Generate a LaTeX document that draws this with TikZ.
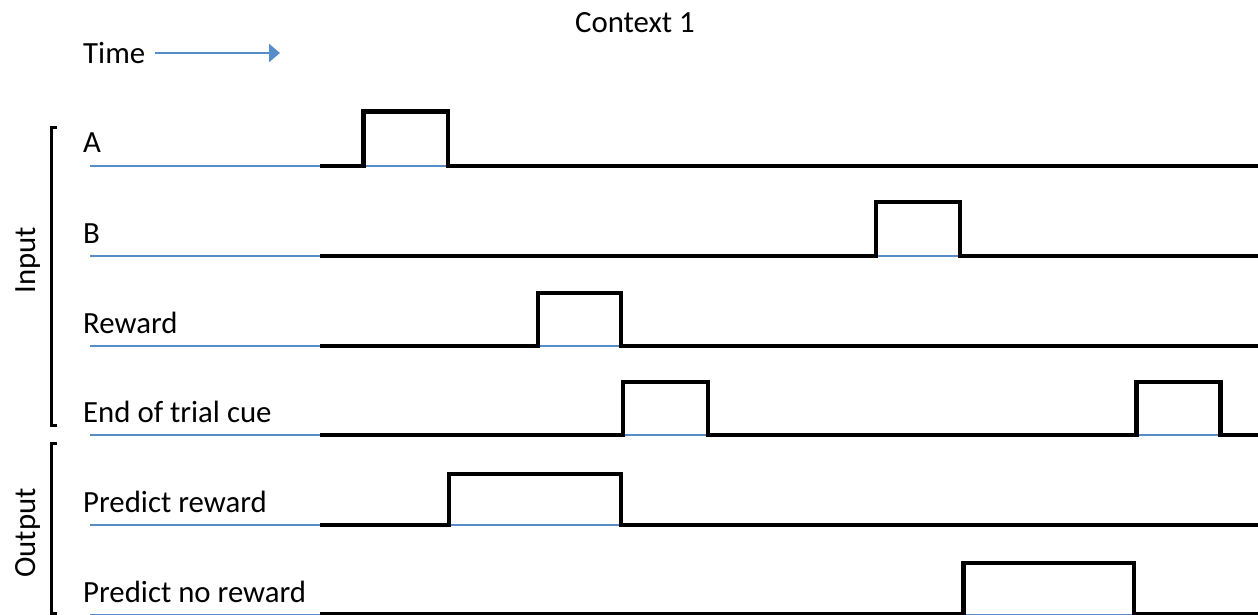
\documentclass[tikz,border=0pt]{standalone}
\usepackage{fontspec}
\setmainfont{Carlito}
\usetikzlibrary{arrows.meta}
\definecolor{tblue}{RGB}{86,140,200}
\tikzset{
  lab/.style={anchor=base west,inner sep=0pt,font=\fontsize{30.8}{37}\selectfont},
  rlab/.style={anchor=base,inner sep=0pt,rotate=90,font=\fontsize{30.8}{37}\selectfont},
  axis/.style={draw=tblue,line width=1.4pt},
  sig/.style={draw=black,line width=4.5pt,line join=miter,line cap=butt},
  bracket/.style={draw=black,line width=3pt,line join=miter},
  tarrow/.style={draw=tblue,line width=2.5pt,-{Triangle[length=11pt,width=18pt]}}
}
\begin{document}
\begin{tikzpicture}[x=1pt,y=-1pt]
\useasboundingbox (0,0) rectangle (1258,615);
\clip (0,0) rectangle (1258,615);
% titles
\node[anchor=base,inner sep=0pt,font=\fontsize{30.8}{37}\selectfont] (ctx) at (635,33) {Context 1};
\node[lab] (time) at (83,64) {Time};
\coordinate (tstart) at (155,53);
\coordinate (tend) at (280,53);
\draw[tarrow] (tstart) -- (tend);
% brackets
\draw[bracket] (57,128) -- (51,128) -- (51,425) -- (57,425);
\draw[bracket] (57,443) -- (51,443) -- (51,613) -- (57,613);
\node[rlab] (inp) at (35,260) {Input};
\node[rlab] (outp) at (35,533) {Output};
% row labels
\node[lab] (lA) at (83,153) {A};
\node[lab] (lB) at (83,243) {B};
\node[lab] (lR) at (83,333) {Reward};
\node[lab] (lE) at (83,422) {End of trial cue};
\node[lab] (lP) at (83,512) {Predict reward};
\node[lab] (lN) at (83,602) {Predict no reward};
% blue baselines
\foreach \y in {166,256,346,435,525,614.5}
  \draw[axis] (90,\y) -- (1258,\y);
% signals
\draw[sig] (320,166) -- (363.5,166) -- (363.5,111.5) -- (448,111.5) -- (448,166) -- (1260,166);
\draw[sig] (320,256) -- (876,256) -- (876,202) -- (960,202) -- (960,256) -- (1260,256);
\draw[sig] (320,346) -- (538,346) -- (538,293) -- (621,293) -- (621,346) -- (1260,346);
\draw[sig] (320,435) -- (623,435) -- (623,382) -- (708,382) -- (708,435) -- (1136.5,435) -- (1136.5,382) -- (1220.5,382) -- (1220.5,435) -- (1260,435);
\draw[sig] (320,525) -- (449,525) -- (449,474) -- (621,474) -- (621,525) -- (1260,525);
\draw[sig] (320,614.5) -- (963.5,614.5) -- (963.5,563) -- (1134,563) -- (1134,614.5) -- (1260,614.5);
\end{tikzpicture}
\end{document}
